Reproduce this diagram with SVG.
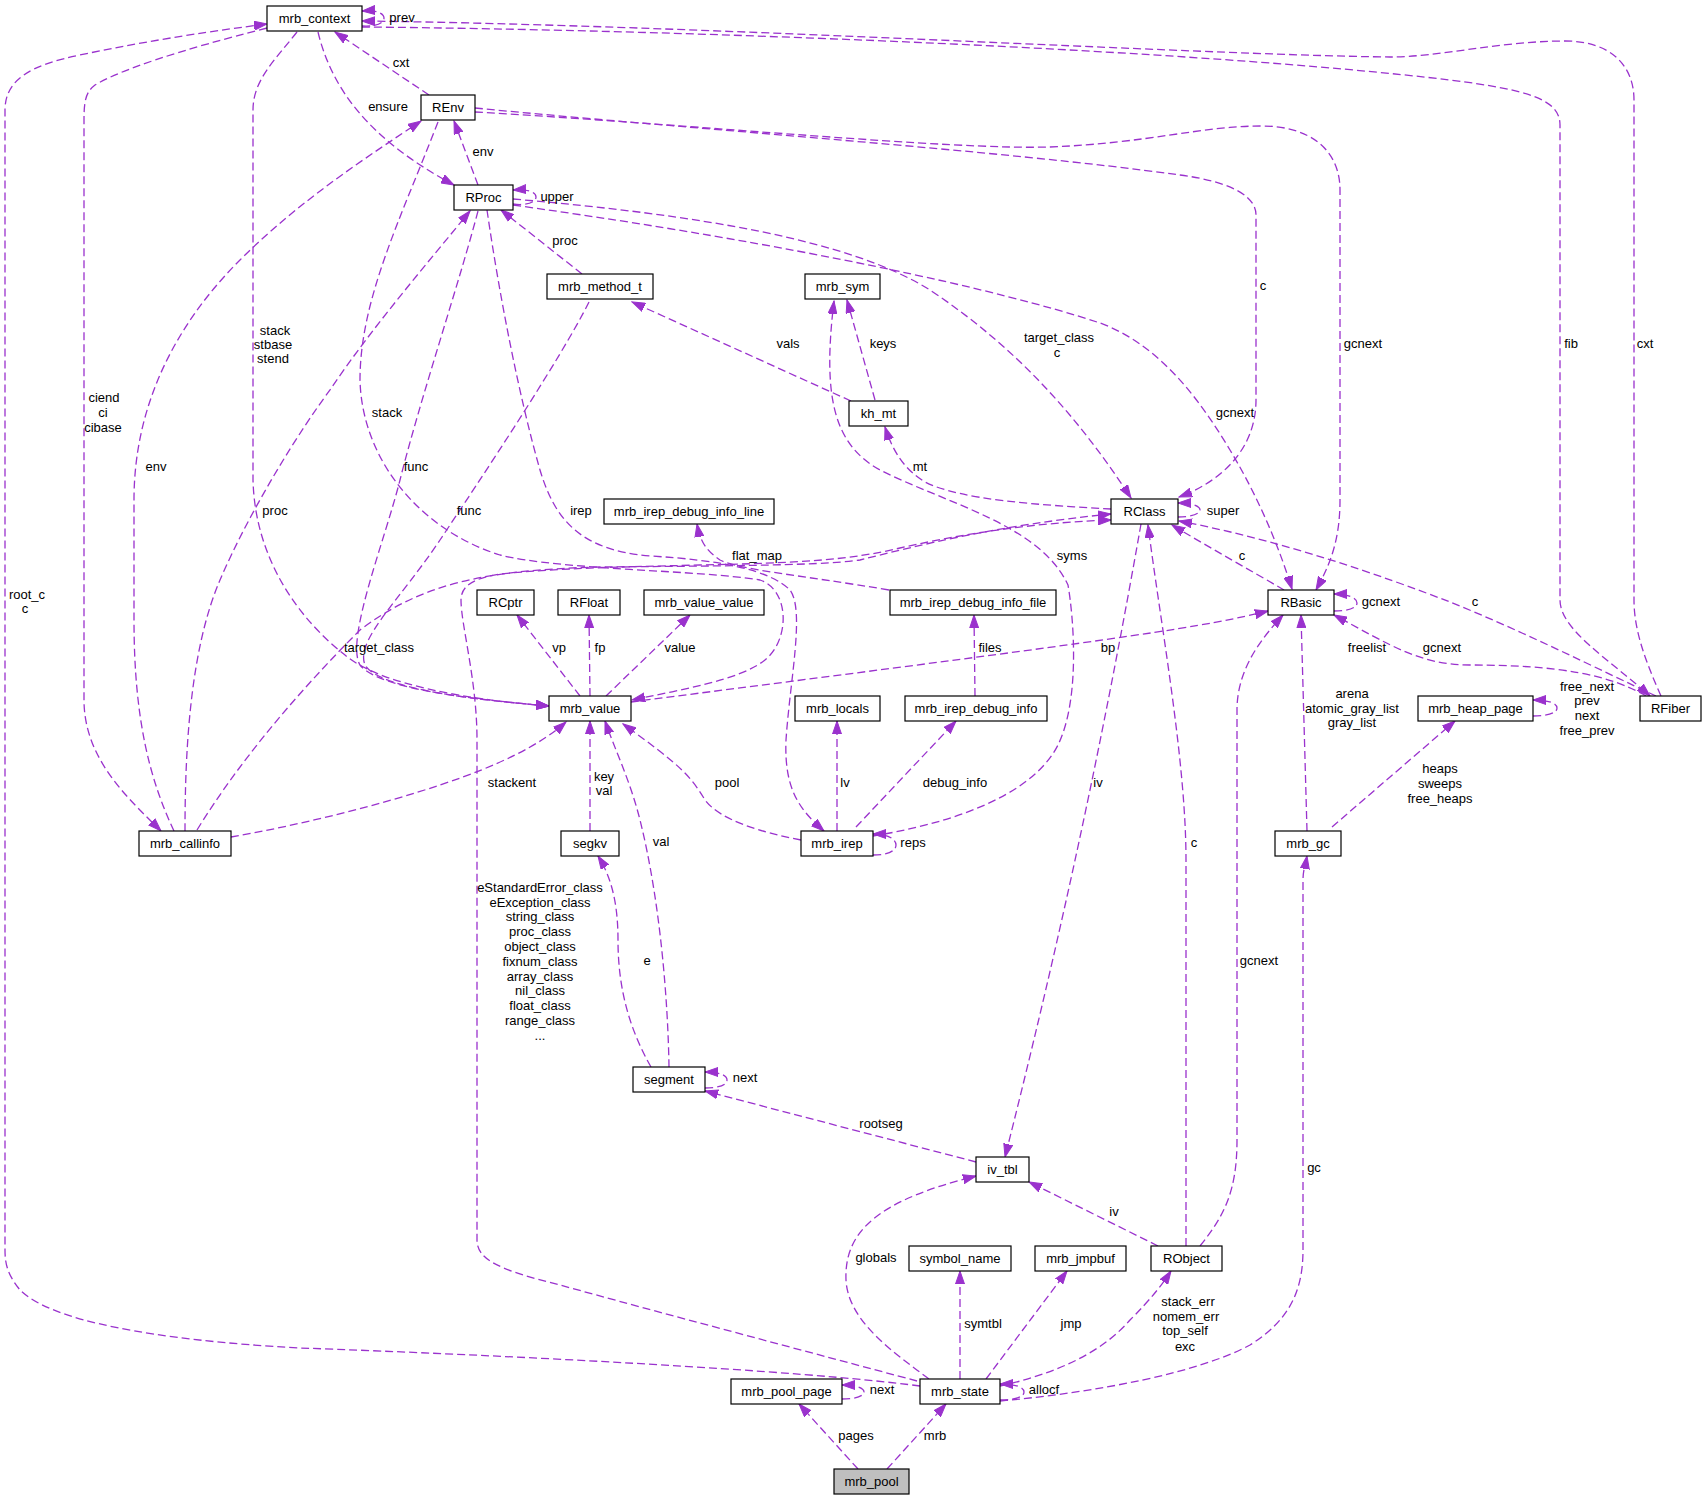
<svg xmlns="http://www.w3.org/2000/svg" width="1707" height="1500" viewBox="0 0 1707 1500">
<style>
.n rect{fill:#fff;stroke:#000;stroke-width:1.2}
.root rect{fill:#bfbfbf}
text{font-family:"Liberation Sans",Arial,Helvetica,sans-serif;font-size:13px;fill:#000;text-anchor:middle}
#edges path{fill:none;stroke:#9a32cd;stroke-width:1.3;stroke-dasharray:8,4;marker-end:url(#a)}
</style>
<defs>
<marker id="a" markerUnits="userSpaceOnUse" markerWidth="14" markerHeight="10" refX="13" refY="5" orient="auto" viewBox="0 0 14 10"><path d="M0,0.5 L13,5 L0,9.5 z" fill="#9a32cd" stroke="#9a32cd" stroke-width="1"/></marker>
</defs>
<rect width="1707" height="1500" fill="#fff"/>
<g id="edges">
<path d="M362,26 C376,27 384,23 384,18 C384,13 376,10 362,11"/>
<path d="M429,95 L335,32"/>
<path d="M318,32 C332,90 370,140 454,185"/>
<path d="M478,185 L454,121"/>
<path d="M513,204 C527,206 536,202 536,197 C536,192 528,189 513,190"/>
<path d="M582,274 L501,210"/>
<path d="M851,401 L632,302"/>
<path d="M875,400 L847,300"/>
<path d="M873,836 C940,825 1030,800 1058,745 C1080,700 1074,620 1068,585 C1040,525 950,505 880,470 C835,445 822,400 834,301"/>
<path d="M1111,509 C1040,505 960,500 925,482 C905,470 893,452 885,427"/>
<path d="M513,199 C700,215 850,240 930,290 C1020,350 1080,420 1131,498"/>
<path d="M475,108 C700,130 1000,150 1180,175 C1240,183 1256,200 1256,215 L1256,400 C1256,450 1220,482 1179,497"/>
<path d="M475,112 C700,125 950,150 1050,147 C1150,143 1200,126 1262,126 C1310,126 1340,150 1340,190 L1340,500 C1340,540 1330,565 1316,590"/>
<path d="M513,205 C800,245 1000,290 1100,323 C1160,345 1200,400 1230,450 C1260,500 1280,550 1292,589"/>
<path d="M1178,517 C1191,517 1200,514 1200,510 C1200,506 1192,503 1178,503"/>
<path d="M1284,590 C1250,570 1210,548 1172,525"/>
<path d="M1334,611 C1348,611 1357,608 1357,603 C1357,598 1348,594 1334,594"/>
<path d="M1656,696 C1600,670 1520,630 1450,602 C1380,575 1280,540 1179,521"/>
<path d="M1646,696 C1610,675 1560,665 1470,665 C1420,665 1390,645 1334,615"/>
<path d="M362,27 C700,30 1200,50 1450,80 C1530,90 1560,100 1560,125 L1560,600 C1560,630 1610,660 1650,696"/>
<path d="M1661,696 C1645,660 1634,630 1634,600 L1634,100 C1634,65 1610,41 1565,41 C1500,41 1440,57 1390,57 C1200,55 700,25 362,21"/>
<path d="M1533,716 C1548,716 1557,713 1557,708 C1557,703 1548,700 1533,700"/>
<path d="M1307,831 L1301,615"/>
<path d="M1332,827 L1455,721"/>
<path d="M1200,1246 C1225,1215 1237,1190 1237,1140 L1237,710 C1237,670 1260,640 1283,615"/>
<path d="M1186,1246 L1186,860 C1186,760 1160,620 1148,525"/>
<path d="M1158,1246 L1029,1182"/>
<path d="M1141,524 C1110,700 1070,900 1005,1157"/>
<path d="M976,1162 L705,1091"/>
<path d="M705,1088 C719,1088 727,1085 727,1080 C727,1075 719,1072 705,1072"/>
<path d="M651,1067 C630,1030 618,990 618,940 C618,900 610,875 598,856"/>
<path d="M669,1067 C668,1000 660,900 640,820 C630,780 615,750 605,721"/>
<path d="M590,831 L590,721"/>
<path d="M580,696 L517,615"/>
<path d="M590,696 L589,615"/>
<path d="M606,696 L690,615"/>
<path d="M631,702 C800,680 1000,655 1130,636 C1200,626 1240,618 1268,611"/>
<path d="M801,840 C760,832 720,820 705,800 C690,775 680,765 623,724"/>
<path d="M837,831 L837,721"/>
<path d="M856,827 L956,721"/>
<path d="M873,855 C888,855 896,851 896,845 C896,839 888,834 873,834"/>
<path d="M975,696 L974,615"/>
<path d="M889,590 C800,575 740,570 720,560 C705,550 700,540 697,524"/>
<path d="M487,210 C500,300 520,400 540,470 C555,520 580,550 650,556 C720,560 770,570 790,590 C805,610 790,680 786,740 C784,790 800,810 824,831"/>
<path d="M478,211 C460,280 420,400 400,480 C385,540 345,640 360,665 C380,690 480,700 549,706"/>
<path d="M589,302 C560,360 480,480 440,540 C400,600 355,640 365,665 C380,690 480,700 549,706"/>
<path d="M297,32 C275,60 253,80 253,110 L253,480 C255,560 300,620 345,655 C380,685 470,700 549,706"/>
<path d="M267,28 C180,50 120,70 95,85 C86,92 84,100 84,120 L84,700 C84,760 130,800 161,831"/>
<path d="M174,831 C150,780 134,720 134,620 L134,500 C134,400 180,320 240,260 C300,200 370,155 421,121"/>
<path d="M185,831 C185,750 190,650 220,580 C250,510 300,430 330,390 C370,330 430,260 470,211"/>
<path d="M197,830 C240,760 300,690 360,630 C420,585 480,570 600,567 C700,566 820,566 860,560 C920,545 1000,525 1111,514"/>
<path d="M231,837 C300,825 380,805 440,785 C500,765 540,745 566,722"/>
<path d="M438,122 C400,220 360,300 360,380 C362,460 420,530 500,555 C560,570 700,570 760,580 C790,590 790,640 765,660 C740,680 680,690 632,700"/>
<path d="M920,1386 C800,1370 500,1355 300,1348 C150,1340 50,1320 20,1290 C8,1275 5,1265 5,1250 L5,110 C5,80 30,65 80,55 C150,40 220,30 267,24"/>
<path d="M917,1381 C820,1355 650,1310 560,1285 C500,1270 477,1260 477,1240 L477,740 C477,680 461,625 461,600 C461,585 475,578 500,574 C560,568 620,567 700,565 C800,563 850,560 900,548 C980,530 1050,522 1111,520"/>
<path d="M1000,1400 C1015,1400 1024,1397 1024,1392 C1024,1387 1015,1384 1000,1384"/>
<path d="M960,1379 L960,1271"/>
<path d="M986,1379 L1067,1271"/>
<path d="M929,1379 C890,1350 848,1320 846,1280 C844,1230 880,1200 976,1176"/>
<path d="M1000,1386 C1050,1375 1100,1355 1130,1320 C1150,1300 1162,1285 1171,1271"/>
<path d="M1000,1401 C1100,1392 1200,1372 1250,1345 C1290,1320 1303,1290 1303,1250 L1303,880 C1303,870 1306,862 1307,856"/>
<path d="M858,1469 L799,1404"/>
<path d="M887,1469 L946,1404"/>
<path d="M842,1399 C856,1399 864,1396 864,1392 C864,1388 856,1385 842,1385"/>
<g id="labels">
<text x="402" y="22">prev</text>
<text x="401" y="67">cxt</text>
<text x="388" y="111">ensure</text>
<text x="483" y="156">env</text>
<text x="557" y="201">upper</text>
<text x="565" y="245">proc</text>
<text x="788" y="348">vals</text>
<text x="883" y="348">keys</text>
<text x="1072" y="560">syms</text>
<text x="920" y="471">mt</text>
<text x="1059" y="342">target_class</text>
<text x="1057" y="357">c</text>
<text x="1263" y="290">c</text>
<text x="1363" y="348">gcnext</text>
<text x="1235" y="417">gcnext</text>
<text x="1223" y="515">super</text>
<text x="1242" y="560">c</text>
<text x="1381" y="606">gcnext</text>
<text x="1475" y="606">c</text>
<text x="1442" y="652">gcnext</text>
<text x="1367" y="652">freelist</text>
<text x="1587" y="691">free_next</text>
<text x="1587" y="705">prev</text>
<text x="1587" y="720">next</text>
<text x="1587" y="735">free_prev</text>
<text x="1352" y="698">arena</text>
<text x="1352" y="713">atomic_gray_list</text>
<text x="1352" y="727">gray_list</text>
<text x="1440" y="773">heaps</text>
<text x="1440" y="788">sweeps</text>
<text x="1440" y="803">free_heaps</text>
<text x="1259" y="965">gcnext</text>
<text x="1194" y="847">c</text>
<text x="1114" y="1216">iv</text>
<text x="1098" y="787">iv</text>
<text x="881" y="1128">rootseg</text>
<text x="745" y="1082">next</text>
<text x="647" y="965">e</text>
<text x="661" y="846">val</text>
<text x="604" y="781">key</text>
<text x="604" y="795">val</text>
<text x="559" y="652">vp</text>
<text x="600" y="652">fp</text>
<text x="680" y="652">value</text>
<text x="1108" y="652">bp</text>
<text x="727" y="787">pool</text>
<text x="845" y="787">lv</text>
<text x="955" y="787">debug_info</text>
<text x="913" y="847">reps</text>
<text x="990" y="652">files</text>
<text x="757" y="560">flat_map</text>
<text x="581" y="515">irep</text>
<text x="416" y="471">func</text>
<text x="469" y="515">func</text>
<text x="275" y="335">stack</text>
<text x="273" y="349">stbase</text>
<text x="273" y="363">stend</text>
<text x="104" y="402">ciend</text>
<text x="103" y="417">ci</text>
<text x="103" y="432">cibase</text>
<text x="156" y="471">env</text>
<text x="275" y="515">proc</text>
<text x="379" y="652">target_class</text>
<text x="512" y="787">stackent</text>
<text x="387" y="417">stack</text>
<text x="1571" y="348">fib</text>
<text x="1645" y="348">cxt</text>
<text x="27" y="599">root_c</text>
<text x="25" y="613">c</text>
<text x="540" y="892">eStandardError_class</text>
<text x="540" y="907">eException_class</text>
<text x="540" y="921">string_class</text>
<text x="540" y="936">proc_class</text>
<text x="540" y="951">object_class</text>
<text x="540" y="966">fixnum_class</text>
<text x="540" y="981">array_class</text>
<text x="540" y="995">nil_class</text>
<text x="540" y="1010">float_class</text>
<text x="540" y="1025">range_class</text>
<text x="540" y="1040">...</text>
<text x="1044" y="1394">allocf</text>
<text x="983" y="1328">symtbl</text>
<text x="1071" y="1328">jmp</text>
<text x="876" y="1262">globals</text>
<text x="1188" y="1306">stack_err</text>
<text x="1186" y="1321">nomem_err</text>
<text x="1185" y="1335">top_self</text>
<text x="1185" y="1351">exc</text>
<text x="1314" y="1172">gc</text>
<text x="856" y="1440">pages</text>
<text x="935" y="1440">mrb</text>
<text x="882" y="1394">next</text>
</g>
</g>
<g id="mrb_context" class="n"><rect x="267" y="6" width="95" height="25"/><text x="314.5" y="23">mrb_context</text></g>
<g id="REnv" class="n"><rect x="421" y="95" width="54" height="25"/><text x="448" y="112">REnv</text></g>
<g id="RProc" class="n"><rect x="454" y="185" width="59" height="25"/><text x="483.5" y="202">RProc</text></g>
<g id="mrb_method_t" class="n"><rect x="547" y="274" width="106" height="25"/><text x="600" y="291">mrb_method_t</text></g>
<g id="mrb_sym" class="n"><rect x="805" y="274" width="75" height="25"/><text x="842.5" y="291">mrb_sym</text></g>
<g id="kh_mt" class="n"><rect x="849" y="401" width="59" height="25"/><text x="878.5" y="418">kh_mt</text></g>
<g id="mrb_irep_debug_info_line" class="n"><rect x="604" y="499" width="170" height="25"/><text x="689" y="516">mrb_irep_debug_info_line</text></g>
<g id="RClass" class="n"><rect x="1111" y="499" width="67" height="25"/><text x="1144.5" y="516">RClass</text></g>
<g id="RCptr" class="n"><rect x="477" y="590" width="57" height="25"/><text x="505.5" y="607">RCptr</text></g>
<g id="RFloat" class="n"><rect x="558" y="590" width="62" height="25"/><text x="589" y="607">RFloat</text></g>
<g id="mrb_value_value" class="n"><rect x="644" y="590" width="120" height="25"/><text x="704" y="607">mrb_value_value</text></g>
<g id="mrb_irep_debug_info_file" class="n"><rect x="890" y="590" width="166" height="25"/><text x="973" y="607">mrb_irep_debug_info_file</text></g>
<g id="RBasic" class="n"><rect x="1268" y="590" width="66" height="25"/><text x="1301" y="607">RBasic</text></g>
<g id="mrb_value" class="n"><rect x="549" y="696" width="82" height="25"/><text x="590" y="713">mrb_value</text></g>
<g id="mrb_locals" class="n"><rect x="795" y="696" width="85" height="25"/><text x="837.5" y="713">mrb_locals</text></g>
<g id="mrb_irep_debug_info" class="n"><rect x="905" y="696" width="142" height="25"/><text x="976" y="713">mrb_irep_debug_info</text></g>
<g id="mrb_heap_page" class="n"><rect x="1418" y="696" width="115" height="25"/><text x="1475.5" y="713">mrb_heap_page</text></g>
<g id="RFiber" class="n"><rect x="1640" y="696" width="61" height="25"/><text x="1670.5" y="713">RFiber</text></g>
<g id="mrb_callinfo" class="n"><rect x="139" y="831" width="92" height="25"/><text x="185" y="848">mrb_callinfo</text></g>
<g id="segkv" class="n"><rect x="561" y="831" width="58" height="25"/><text x="590" y="848">segkv</text></g>
<g id="mrb_irep" class="n"><rect x="801" y="831" width="72" height="25"/><text x="837" y="848">mrb_irep</text></g>
<g id="mrb_gc" class="n"><rect x="1275" y="831" width="66" height="25"/><text x="1308" y="848">mrb_gc</text></g>
<g id="segment" class="n"><rect x="633" y="1067" width="72" height="25"/><text x="669" y="1084">segment</text></g>
<g id="iv_tbl" class="n"><rect x="976" y="1157" width="53" height="25"/><text x="1002.5" y="1174">iv_tbl</text></g>
<g id="symbol_name" class="n"><rect x="909" y="1246" width="102" height="25"/><text x="960" y="1263">symbol_name</text></g>
<g id="mrb_jmpbuf" class="n"><rect x="1035" y="1246" width="91" height="25"/><text x="1080.5" y="1263">mrb_jmpbuf</text></g>
<g id="RObject" class="n"><rect x="1151" y="1246" width="71" height="25"/><text x="1186.5" y="1263">RObject</text></g>
<g id="mrb_pool_page" class="n"><rect x="731" y="1379" width="111" height="25"/><text x="786.5" y="1396">mrb_pool_page</text></g>
<g id="mrb_state" class="n"><rect x="920" y="1379" width="80" height="25"/><text x="960" y="1396">mrb_state</text></g>
<g id="mrb_pool" class="n root"><rect x="834" y="1469" width="75" height="25"/><text x="871.5" y="1486">mrb_pool</text></g>
</svg>
